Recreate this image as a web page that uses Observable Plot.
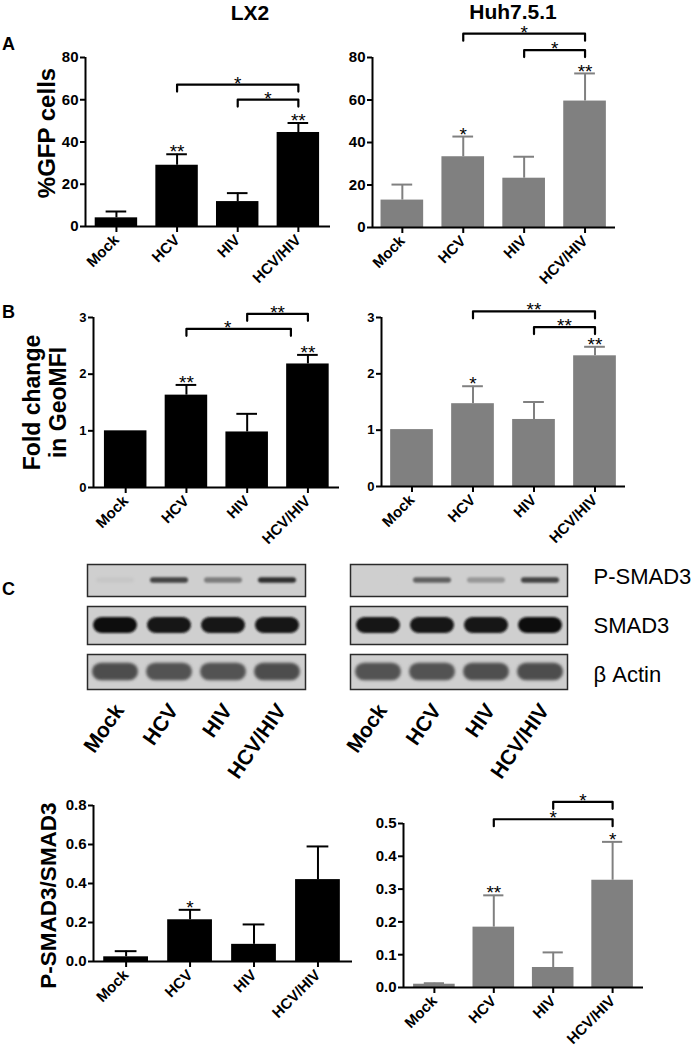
<!DOCTYPE html>
<html><head><meta charset="utf-8">
<script src="https://cdn.jsdelivr.net/npm/d3@7"></script>
<script src="https://cdn.jsdelivr.net/npm/@observablehq/plot@0.6"></script>
<style>
body{margin:0;background:#fff;}
#fig{position:relative;width:699px;height:1050px;overflow:hidden;font-family:"Liberation Sans",Arial,sans-serif;background:#fff;}
.pane{position:absolute;}
.t{position:absolute;font-weight:bold;line-height:1;white-space:nowrap;color:#000;}
</style></head><body><div id="fig"></div>
<script>
// ---------- data ----------
const categories = ["Mock", "HCV", "HIV", "HCV/HIV"];

const gfpLX2 = [4.1, 29.0, 11.8, 44.5];
const gfpLX2Err = [3.0, 5.2, 4.0, 4.5];
const gfpLX2Stars = ["", "**", "", "**"];
const gfpLX2Brackets = [
  {from: "HCV", to: "HCV/HIV", level: 67.2, label: "*"},
  {from: "HIV", to: "HCV/HIV", level: 60.1, label: "*"}
];

const gfpHuh = [12.9, 33.3, 23.2, 59.5];
const gfpHuhErr = [7.3, 9.5, 10.1, 13.0];
const gfpHuhStars = ["", "*", "", "**"];
const gfpHuhBrackets = [
  {from: "HCV", to: "HCV/HIV", level: 91.2, label: "*"},
  {from: "HIV", to: "HCV/HIV", level: 83.5, label: "*"}
];

const mfiLX2 = [1.0, 1.63, 0.98, 2.18];
const mfiLX2Err = [0, 0.18, 0.32, 0.16];
const mfiLX2Stars = ["", "**", "", "**"];
const mfiLX2Brackets = [
  {from: "HCV", to: "HCV/HIV", level: 2.80, label: "*", toShift: -0.28, labelShift: -0.18},
  {from: "HIV", to: "HCV/HIV", level: 3.065, label: "**"}
];

const mfiHuh = [1.01, 1.47, 1.19, 2.32];
const mfiHuhErr = [0, 0.31, 0.31, 0.16];
const mfiHuhStars = ["", "*", "", "**"];
const mfiHuhBrackets = [
  {from: "HCV", to: "HCV/HIV", level: 3.11, label: "**"},
  {from: "HIV", to: "HCV/HIV", level: 2.83, label: "**"}
];

const ratioLX2 = [0.024, 0.214, 0.088, 0.42];
const ratioLX2Err = [0.029, 0.051, 0.102, 0.17];
const ratioLX2Stars = ["", "*", "", ""];
const ratioLX2Brackets = [];

const ratioHuh = [0.010, 0.184, 0.061, 0.327];
const ratioHuhErr = [0.003, 0.097, 0.046, 0.117];
const ratioHuhStars = ["", "**", "", "*"];
const ratioHuhBrackets = [
  {from: "HIV", to: "HCV/HIV", level: 0.566, label: "*"},
  {from: "HCV", to: "HCV/HIV", level: 0.513, label: "*"}
];

// western blot band intensities (0 = none, 1 = saturated)
const blotRowNames = ["P-SMAD3", "SMAD3", "β Actin"];
const pSmadLX2 = [0.04, 0.72, 0.42, 0.82];
const smadLX2 = [0.97, 0.95, 0.95, 0.96];
const actinLX2 = [0.66, 0.64, 0.64, 0.66];
const pSmadHuh = [0.0, 0.56, 0.28, 0.72];
const smadHuh = [0.96, 0.96, 0.96, 0.97];
const actinHuh = [0.64, 0.64, 0.65, 0.66];

// ---------- helpers ----------
const FONT = "Liberation Sans, Arial, Helvetica, sans-serif";
const fig = document.getElementById("fig");

function place(node, left, top) {
  const d = document.createElement("div");
  d.className = "pane";
  d.style.left = left + "px";
  d.style.top = top + "px";
  d.appendChild(node);
  fig.appendChild(d);
}
function txt(s, left, top, size, extra) {
  const d = document.createElement("div");
  d.className = "t";
  d.textContent = s;
  d.style.left = left + "px";
  d.style.top = top + "px";
  d.style.fontSize = size + "px";
  if (extra) Object.assign(d.style, extra);
  fig.appendChild(d);
}

function barChart(o) {
  const rows = categories.map((c, i) => ({i, cat: c, v: o.values[i], e: o.errors[i], star: o.stars[i]}));
  const innerH = o.height - o.mt - o.mb;
  const ppu = innerH / o.yMax;
  const drop = 7 / ppu;
  const bw = 0.35, cw = 0.17;
  const idx = c => categories.indexOf(c);
  const brPts = [], brLabels = [];
  o.brackets.forEach((b, k) => {
    const a = idx(b.from) + (b.fromShift || 0), z = idx(b.to) + (b.toShift || 0);
    brPts.push({k, x: a, y: b.level - drop}, {k, x: a, y: b.level}, {k, x: z, y: b.level}, {k, x: z, y: b.level - drop});
    brLabels.push({x: (a + z) / 2 + (b.labelShift || 0), y: b.level, t: b.label});
  });
  const withErr = rows.filter(d => d.e > 0);
  const marks = [
    Plot.rectY(rows, {x1: d => d.i - bw, x2: d => d.i + bw, y1: 0, y2: "v", fill: o.color}),
    Plot.ruleX(withErr, {x: "i", y1: "v", y2: d => d.v + d.e, stroke: o.color, strokeWidth: 2}),
    Plot.ruleY(withErr, {x1: d => d.i - cw, x2: d => d.i + cw, y: d => d.v + d.e, stroke: o.color, strokeWidth: 2}),
    Plot.ruleY([0], {stroke: "#000", strokeWidth: 2}),
    Plot.ruleX([o.xDomain[0]], {y1: 0, y2: o.yMax, stroke: "#000", strokeWidth: 2}),
    Plot.axisY({ticks: o.yTicks, tickFormat: o.yFormat, tickSize: 5, tickPadding: 2, fontSize: o.yFont, fontWeight: "bold", strokeWidth: 2, label: null}),
    Plot.axisX({ticks: [0, 1, 2, 3], tickFormat: i => categories[i], tickRotate: -45, tickSize: 6, tickPadding: 5, fontSize: 15, fontWeight: "bold", strokeWidth: 2, label: null}),
    Plot.text(rows.filter(d => d.star), {x: "i", y: d => d.v + d.e, text: "star", fontSize: 19, dy: -2}),
    Plot.line(brPts, {x: "x", y: "y", z: "k", stroke: "#000", strokeWidth: 2.2}),
    Plot.text(brLabels, {x: "x", y: "y", text: "t", fontSize: 19, dy: -1})
  ];
  if (o.label) marks.push(Plot.text([o.label], {text: d => d, frameAnchor: "left", textAnchor: "middle", lineAnchor: "middle", rotate: -90,
    dx: o.labelDx, dy: o.labelDy, fontSize: o.labelFont, fontWeight: "bold", lineHeight: 1.13}));
  return Plot.plot({
    width: o.width, height: o.height,
    marginLeft: o.ml, marginRight: o.mr, marginTop: o.mt, marginBottom: o.mb,
    x: {domain: o.xDomain},
    y: {domain: [0, o.yMax]},
    style: {fontFamily: FONT, color: "#000", background: "transparent", overflow: "visible"},
    marks
  });
}

let blurId = 0;
function blotRow(o) {
  const rows = categories.map((c, i) => ({lane: c, v: o.intensity[i]}));
  const marks = [
    Plot.frame({fill: "#cfcfcf", stroke: "#2a2a2a", strokeWidth: 1.5}),
    Plot.barY(rows, {x: "lane", y1: -o.thick, y2: o.thick, fill: "v", insetLeft: o.inset, insetRight: o.inset, rx: o.rx})
  ];
  if (o.label) marks.push(Plot.text([o.label], {text: d => d, frameAnchor: "right", textAnchor: "start", dx: 26, dy: o.labelDy || 0, fontSize: 22}));
  if (o.axis) marks.push(Plot.axisX({tickSize: 0, tickRotate: -55, tickPadding: 17, fontSize: 21, fontWeight: "bold", label: null, dx: 4}));
  const svg = Plot.plot({
    width: o.width, height: o.height,
    marginLeft: o.ml, marginRight: o.mr, marginTop: o.mt, marginBottom: o.mb,
    x: {type: "band", domain: categories, padding: 0, axis: o.axis ? undefined : null},
    y: {domain: [-1, 1], axis: null},
    color: {type: "linear", domain: [0, 1], range: ["#cfcfcf", "#0b0b0b"]},
    style: {fontFamily: FONT, color: "#000", background: "transparent", overflow: "visible"},
    marks
  });
  // soften the bands like a photographed film
  const id = "blotblur" + (blurId++);
  const ns = "http://www.w3.org/2000/svg";
  const defs = document.createElementNS(ns, "defs");
  const f = document.createElementNS(ns, "filter");
  f.setAttribute("id", id);
  f.setAttribute("x", "-20%"); f.setAttribute("y", "-150%");
  f.setAttribute("width", "140%"); f.setAttribute("height", "400%");
  const g = document.createElementNS(ns, "feGaussianBlur");
  g.setAttribute("stdDeviation", o.blur);
  f.appendChild(g); defs.appendChild(f);
  svg.insertBefore(defs, svg.firstChild);
  const bars = svg.querySelector('g[aria-label="bar"]');
  if (bars) bars.setAttribute("filter", `url(#${id})`);
  return svg;
}

// ---------- titles & panel letters ----------
txt("LX2", 250, 2, 21, {transform: "translateX(-50%)"});
txt("Huh7.5.1", 513, 1, 21, {transform: "translateX(-50%)"});
txt("A", 2, 35, 18);
txt("B", 2, 303, 18);
txt("C", 2, 580, 18);

// ---------- panel A ----------
place(barChart({values: gfpLX2, errors: gfpLX2Err, stars: gfpLX2Stars, brackets: gfpLX2Brackets, color: "#000",
  width: 350, height: 300, ml: 85, mr: 20, mt: 57, mb: 74, xDomain: [-0.51, 3.53],
  yMax: 80, yTicks: [0, 20, 40, 60, 80], yFormat: d3.format("d"), yFont: 15,
  label: "%GFP cells", labelDx: -39, labelDy: -9, labelFont: 24}), 0, 0);
place(barChart({values: gfpHuh, errors: gfpHuhErr, stars: gfpHuhStars, brackets: gfpHuhBrackets, color: "#808080",
  width: 369, height: 300, ml: 42, mr: 84, mt: 57, mb: 73, xDomain: [-0.49, 3.50],
  yMax: 80, yTicks: [0, 20, 40, 60, 80], yFormat: d3.format("d"), yFont: 15}), 330, 0);

// ---------- panel B ----------
place(barChart({values: mfiLX2, errors: mfiLX2Err, stars: mfiLX2Stars, brackets: mfiLX2Brackets, color: "#000",
  width: 350, height: 260, ml: 93, mr: 11, mt: 27, mb: 63, xDomain: [-0.53, 3.52],
  yMax: 3, yTicks: [0, 1, 2, 3], yFormat: d3.format("d"), yFont: 13,
  label: "Fold change\nin GeoMFI", labelDx: -49, labelDy: 0, labelFont: 23}), 0, 290);
place(barChart({values: mfiHuh, errors: mfiHuhErr, stars: mfiHuhStars, brackets: mfiHuhBrackets, color: "#808080",
  width: 369, height: 260, ml: 51, mr: 74, mt: 27, mb: 64, xDomain: [-0.5, 3.5],
  yMax: 3, yTicks: [0, 1, 2, 3], yFormat: d3.format("d"), yFont: 13}), 330, 290);

// ---------- panel C blots ----------
const blotSpecs = [
  {name: blotRowNames[0], lx: pSmadLX2, huh: pSmadHuh, top: 562, h: 36, thick: 0.17, inset: 8, rx: 3, blur: 1.3, labelDy: -4},
  {name: blotRowNames[1], lx: smadLX2, huh: smadHuh, top: 604, h: 42, thick: 0.42, inset: 5, rx: 9, blur: 0.9, labelDy: 0},
  {name: blotRowNames[2], lx: actinLX2, huh: actinHuh, top: 652, h: 39, thick: 0.5, inset: 4, rx: 9, blur: 1.4, labelDy: 3}
];
blotSpecs.forEach((s, k) => {
  const last = k === blotSpecs.length - 1;
  const extra = last ? 110 : 0;
  place(blotRow({intensity: s.lx, thick: s.thick, inset: s.inset, rx: s.rx, blur: s.blur, axis: last,
    width: 350, height: s.h + extra, ml: 87, mr: 45, mt: 2, mb: 2 + extra}), 0, s.top);
  place(blotRow({intensity: s.huh, thick: s.thick, inset: s.inset, rx: s.rx, blur: s.blur, axis: last, label: s.name, labelDy: s.labelDy,
    width: 369, height: s.h + extra, ml: 20, mr: 132, mt: 2, mb: 2 + extra}), 330, s.top);
});

// ---------- panel C quantification ----------
place(barChart({values: ratioLX2, errors: ratioLX2Err, stars: ratioLX2Stars, brackets: ratioLX2Brackets, color: "#000",
  width: 360, height: 270, ml: 93, mr: 8, mt: 25, mb: 89, xDomain: [-0.51, 3.54],
  yMax: 0.8, yTicks: [0, 0.2, 0.4, 0.6, 0.8], yFormat: d3.format(".1f"), yFont: 15,
  label: "P-SMAD3/SMAD3", labelDx: -46, labelDy: 12, labelFont: 22.5}), 0, 780);
place(barChart({values: ratioHuh, errors: ratioHuhErr, stars: ratioHuhStars, brackets: ratioHuhBrackets, color: "#808080",
  width: 339, height: 270, ml: 43, mr: 56, mt: 43, mb: 63, xDomain: [-0.52, 3.52],
  yMax: 0.5, yTicks: [0, 0.1, 0.2, 0.3, 0.4, 0.5], yFormat: d3.format(".1f"), yFont: 15}), 360, 780);
</script></body></html>
